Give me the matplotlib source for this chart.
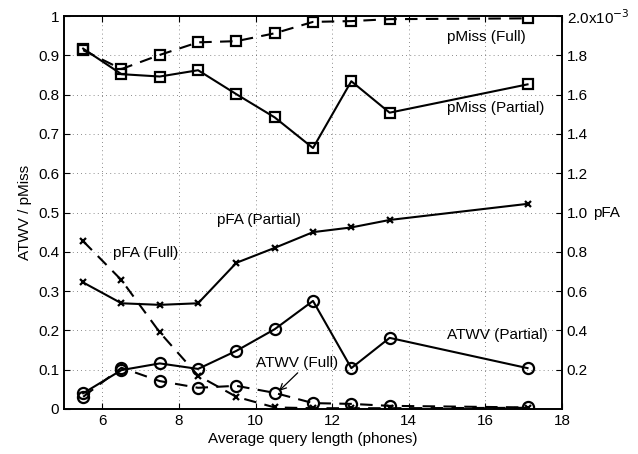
import numpy as np
import matplotlib.pyplot as plt

plt.rcParams['font.family'] = ['Liberation Sans', 'DejaVu Sans']
plt.rcParams['font.size'] = 11

x = [5.5, 6.5, 7.5, 8.5, 9.5, 10.5, 11.5, 12.5, 13.5, 17.1]

pmiss_full = [0.913, 0.865, 0.901, 0.933, 0.936, 0.956, 0.985, 0.987, 0.992, 0.994]
pmiss_part = [0.917, 0.852, 0.846, 0.862, 0.801, 0.742, 0.664, 0.834, 0.754, 0.826]
atwv_full = [0.031, 0.105, 0.071, 0.054, 0.059, 0.041, 0.015, 0.013, 0.008, 0.004]
atwv_part = [0.040, 0.099, 0.116, 0.102, 0.148, 0.203, 0.275, 0.104, 0.181, 0.104]
# pFA values (x 1e-3)
pfa_full = [0.854, 0.656, 0.390, 0.170, 0.062, 0.008, 0.004, 0.004, 0.004, 0.006]
pfa_part = [0.644, 0.538, 0.530, 0.538, 0.744, 0.820, 0.900, 0.924, 0.962, 1.044]

fig = plt.figure(figsize=(6.38, 4.54), dpi=100)
ax = fig.add_axes([64/638, 1 - 409/454, 498/638, 393/454])
ax2 = ax.twinx()

kw = dict(color='black', lw=1.5, mfc='none', mew=1.6)
ax.plot(x, pmiss_full, 's--', ms=7, dashes=(6, 4), **kw)
ax.plot(x, pmiss_part, 's-', ms=7, **kw)
ax.plot(x, atwv_full, 'o--', ms=8, dashes=(6, 4), **kw)
ax.plot(x, atwv_part, 'o-', ms=8, **kw)
ax2.plot(x, np.array(pfa_full) * 1e-3, 'x--', ms=5, dashes=(6, 4), **kw)
ax2.plot(x, np.array(pfa_part) * 1e-3, 'x-', ms=5, **kw)

ax.set_xlim(5, 18)
ax.set_ylim(0, 1)
ax.set_xticks([6, 8, 10, 12, 14, 16, 18])
ax.set_yticks(np.arange(0, 1.01, 0.1))
ax.set_yticklabels(['0', '0.1', '0.2', '0.3', '0.4', '0.5', '0.6', '0.7', '0.8', '0.9', '1'])
ax.grid(True, ls=(0, (1, 4)), color='black', lw=0.6, alpha=0.6)
ax.tick_params(direction='in', top=True, length=4)
ax.set_xlabel('Average query length (phones)', labelpad=3)
ax.set_ylabel('ATWV / pMiss', labelpad=4)

ax2.set_ylim(0, 2e-3)
rt = np.arange(0.2, 2.01, 0.2) * 1e-3
ax2.set_yticks(rt)
ax2.set_yticklabels(['0.2', '0.4', '0.6', '0.8', '1.0', '1.2', '1.4', '1.6', '1.8',
                     r'2.0x10$^{-3}$'])
ax2.tick_params(direction='in', length=4)
ax2.set_ylabel('pFA', rotation=0, va='center', ha='left')
ax2.yaxis.set_label_coords(1.062, 0.5)

for a in (ax, ax2):
    for s in a.spines.values():
        s.set_linewidth(1.2)

ax.text(15.0, 0.947, 'pMiss (Full)', va='center')
ax.text(15.0, 0.766, 'pMiss (Partial)', va='center')
ax.text(9.0, 0.481, 'pFA (Partial)', va='center')
ax.text(6.28, 0.397, 'pFA (Full)', va='center')
ax.text(15.0, 0.188, 'ATWV (Partial)', va='center')
ax.text(10.0, 0.117, 'ATWV (Full)', va='center')
ax.annotate('', xy=(10.56, 0.041), xytext=(11.1, 0.092),
            arrowprops=dict(arrowstyle='->', color='black', lw=0.9,
                            shrinkA=0, shrinkB=2))

fig.savefig('out.png')
